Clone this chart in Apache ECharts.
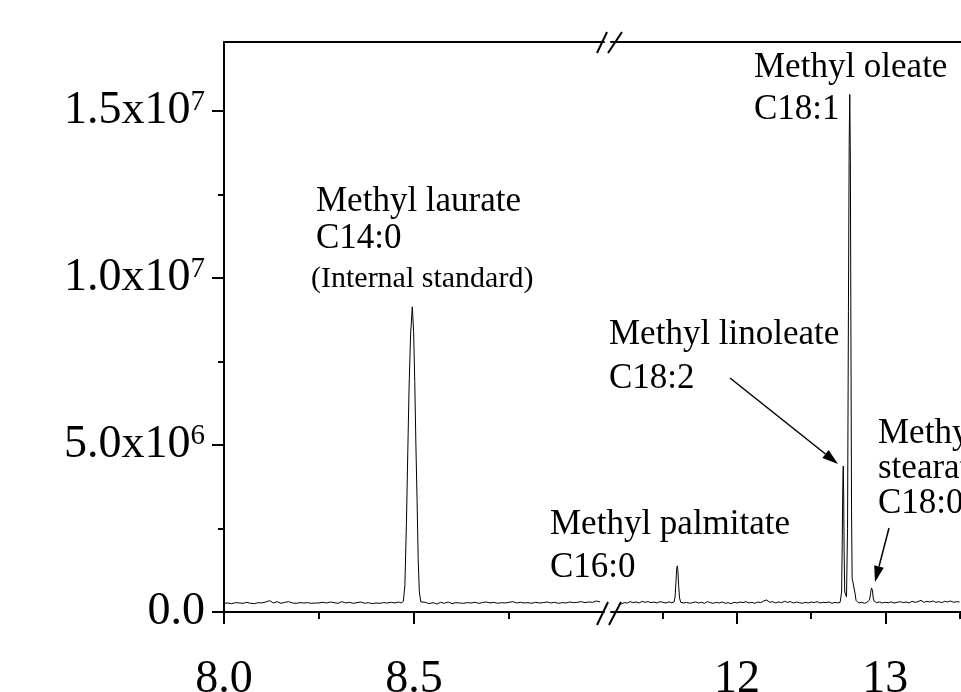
<!DOCTYPE html>
<html><head><meta charset="utf-8">
<script src="https://cdn.jsdelivr.net/npm/echarts@6/dist/echarts.min.js"></script>
<style>html,body{margin:0;padding:0;background:#fff}#c{width:961px;height:692px}</style>
</head><body><div id="c"></div>
<script>
// Retention time (min) and detector signal (in units of 1e6 counts)
const leftTime = [8.00,8.01,8.02,8.03,8.04,8.05,8.06,8.07,8.08,8.09,8.10,8.11,8.12,8.13,8.14,8.15,8.16,8.17,8.18,8.19,8.20,8.21,8.22,8.23,8.24,8.25,8.26,8.27,8.28,8.29,8.30,8.31,8.32,8.33,8.34,8.35,8.36,8.37,8.38,8.39,8.40,8.41,8.42,8.43,8.44,8.45,8.46,
8.466,8.472,8.476,8.480,8.483,8.487,8.491,8.4955,8.499,8.502,8.505,8.508,8.511,8.514,8.518,8.523,
8.53,8.54,8.55,8.56,8.57,8.58,8.59,8.60,8.61,8.62,8.63,8.64,8.65,8.66,8.67,8.68,8.69,8.70,8.71,8.72,8.73,8.74,8.75,8.76,8.77,8.78,8.79,8.80,8.81,8.82,8.83,8.84,8.85,8.86,8.87,8.88,8.89,8.90,8.91,8.92,8.93,8.94,8.95,8.96,8.97,8.98,8.99];
const leftSignal = [0.26,0.27,0.25,0.28,0.27,0.26,0.29,0.26,0.25,0.28,0.27,0.30,0.34,0.27,0.31,0.26,0.29,0.31,0.27,0.26,0.28,0.27,0.28,0.26,0.27,0.27,0.29,0.27,0.30,0.28,0.26,0.31,0.27,0.29,0.26,0.28,0.30,0.26,0.28,0.25,0.27,0.26,0.28,0.27,0.29,0.27,0.30,
0.27,0.32,0.8,2.6,4.4,6.7,8.3,9.14,8.4,6.9,5.0,3.4,1.6,0.6,0.30,0.27,
0.29,0.25,0.28,0.24,0.29,0.26,0.30,0.25,0.28,0.27,0.26,0.28,0.27,0.29,0.26,0.28,0.30,0.27,0.29,0.26,0.28,0.27,0.29,0.31,0.27,0.29,0.27,0.28,0.26,0.29,0.27,0.28,0.30,0.27,0.29,0.26,0.28,0.27,0.30,0.28,0.29,0.31,0.28,0.30,0.29,0.33,0.30];
const rightTime = [11.22,11.24,11.26,11.28,11.30,11.32,11.34,11.36,11.38,11.40,11.42,11.44,11.46,11.48,11.50,11.52,11.54,11.56,
11.575,11.582,11.588,11.593,11.597,11.601,11.606,11.612,11.62,
11.64,11.66,11.68,11.70,11.72,11.74,11.76,11.78,11.80,11.82,11.84,11.86,11.88,11.90,11.92,11.94,11.96,11.98,12.00,12.02,12.04,12.06,12.08,12.10,12.12,12.14,12.16,12.18,12.20,12.22,12.24,12.26,12.28,12.30,12.32,12.34,12.36,12.38,12.40,12.42,12.44,12.46,12.48,12.50,12.52,12.54,12.56,12.58,12.60,12.62,12.64,12.66,12.68,
12.695,12.705,12.709,12.713,12.716,12.719,12.722,12.726,12.738,12.745,12.751,12.756,12.760,12.764,12.768,12.772,12.776,12.781,12.786,12.791,12.796,12.802,12.81,
12.82,12.84,12.86,12.875,12.893,12.900,12.906,12.909,12.913,12.918,12.925,
12.94,12.96,12.98,13.00,13.02,13.04,13.06,13.08,13.10,13.12,13.14,13.16,13.18,13.20,13.22,13.24,13.26,13.28,13.30,13.32,13.34,13.36,13.38,13.40,13.42,13.44,13.46,13.48,13.50];
const rightSignal = [0.24,0.28,0.27,0.31,0.28,0.30,0.27,0.32,0.29,0.31,0.28,0.30,0.27,0.31,0.29,0.27,0.30,0.28,
0.30,0.45,0.9,1.3,1.38,1.25,0.8,0.42,0.29,
0.27,0.29,0.26,0.28,0.30,0.27,0.29,0.26,0.31,0.28,0.26,0.29,0.27,0.30,0.26,0.28,0.25,0.29,0.27,0.30,0.28,0.31,0.27,0.29,0.26,0.30,0.28,0.33,0.36,0.29,0.31,0.27,0.30,0.28,0.32,0.29,0.31,0.27,0.30,0.28,0.26,0.29,0.27,0.30,0.28,0.31,0.27,0.29,0.28,0.30,0.26,0.29,0.27,
0.29,0.6,2.0,3.8,4.37,3.5,1.8,0.6,0.45,2.5,9.0,14.0,15.5,13.5,8.0,3.0,1.0,0.9,0.95,0.85,0.55,0.35,0.30,
0.27,0.29,0.26,0.29,0.36,0.55,0.72,0.75,0.65,0.42,0.32,
0.28,0.30,0.27,0.29,0.28,0.30,0.27,0.29,0.31,0.28,0.30,0.27,0.32,0.29,0.31,0.35,0.29,0.32,0.30,0.33,0.29,0.31,0.28,0.32,0.30,0.33,0.29,0.31,0.30];

const xMajorLeft = [8.0, 8.5];
const xMinorLeft = [8.25, 8.75];
const xMajorRight = [12, 13];
const xMinorRight = [11.5, 12.5, 13.5];
const yMajor = [0, 5, 10, 15];
const yMinor = [2.5, 7.5, 12.5];
const yLabelMantissa = ['0.0', '5.0x10', '1.0x10', '1.5x10'];
const yLabelExponent = ['', '6', '7', '7'];

const FONT = 'Liberation Serif';
const pairs = (t, s) => t.map((v, i) => [v, s[i]]);

const chart = echarts.init(document.getElementById('c'), null, {renderer: 'canvas'});
const axLine = {show: true, onZero: false, lineStyle: {color: '#000', width: 2}};
const noLine = {show: false};
const lbl = {fontSize: 46, fontFamily: FONT, color: '#000'};

function xMain(grid, min, max, majors) {
  return {type: 'value', gridIndex: grid, min, max, position: 'bottom',
    axisLine: axLine, splitLine: {show: false},
    axisTick: {show: true, customValues: majors, length: 12, lineStyle: {color: '#000', width: 2}},
    axisLabel: Object.assign({customValues: majors, margin: 45, formatter: v => (grid === 0 ? v.toFixed(1) : String(v))}, lbl)};
}
function xMinor(grid, min, max, minors) {
  return {type: 'value', gridIndex: grid, min, max, position: 'bottom', offset: 0,
    axisLine: noLine, splitLine: {show: false},
    axisTick: {show: true, customValues: minors, length: 7, lineStyle: {color: '#000', width: 2}},
    axisLabel: {show: false}};
}
function xTop(grid, min, max) {
  return {type: 'value', gridIndex: grid, min, max, position: 'top',
    axisLine: axLine, splitLine: {show: false}, axisTick: {show: false}, axisLabel: {show: false}};
}

const option = {
  backgroundColor: '#fff',
  animation: false,
  grid: [
    {left: 224, width: 380, top: 42, bottom: 80, containLabel: false, outerBoundsMode: 'none'},
    {left: 611, right: 0, top: 42, bottom: 80, containLabel: false, outerBoundsMode: 'none'}
  ],
  xAxis: [
    xMain(0, 8.0, 9.0, xMajorLeft), xMinor(0, 8.0, 9.0, xMinorLeft), xTop(0, 8.0, 9.0),
    xMain(1, 11.15, 13.51, xMajorRight), xMinor(1, 11.15, 13.51, xMinorRight), xTop(1, 11.15, 13.51)
  ],
  yAxis: [
    {type: 'value', gridIndex: 0, min: 0, max: 17.07, position: 'left',
      axisLine: axLine, splitLine: {show: false},
      axisTick: {show: true, customValues: yMajor, length: 12, lineStyle: {color: '#000', width: 2}},
      axisLabel: {customValues: yMajor, margin: 19,
        formatter: v => { const i = yMajor.indexOf(v); return yLabelExponent[i] ? '{m|' + yLabelMantissa[i] + '}{s|' + yLabelExponent[i] + '}' : '{m|' + yLabelMantissa[i] + '}'; },
        rich: {m: {fontSize: 46, fontFamily: FONT, color: '#000'},
               s: {fontSize: 29, fontFamily: FONT, color: '#000', verticalAlign: 'top'}}}},
    {type: 'value', gridIndex: 0, min: 0, max: 17.07, position: 'left', offset: 0,
      axisLine: noLine, splitLine: {show: false},
      axisTick: {show: true, customValues: yMinor, length: 6, lineStyle: {color: '#000', width: 2}},
      axisLabel: {show: false}},
    {type: 'value', gridIndex: 1, min: 0, max: 17.07, show: false}
  ],
  series: [
    {type: 'line', xAxisIndex: 0, yAxisIndex: 0, data: pairs(leftTime, leftSignal), showSymbol: false, symbol: 'none',
      lineStyle: {color: '#000', width: 1}, clip: true},
    {type: 'line', xAxisIndex: 3, yAxisIndex: 2, data: pairs(rightTime, rightSignal), showSymbol: false, symbol: 'none',
      lineStyle: {color: '#000', width: 1}, clip: true}
  ],
  graphic: []
};

function txt(text, x, baseline, size) {
  return {type: 'text', x: x, y: baseline - 0.3 * size, z: 100,
    style: {text: text, font: size + 'px "' + FONT + '"', fill: '#000',
      textAlign: 'left', textVerticalAlign: 'middle', align: 'left', verticalAlign: 'middle'}};
}
function seg(x1, y1, x2, y2, w) {
  return {type: 'line', z: 100, shape: {x1, y1, x2, y2}, style: {stroke: '#000', lineWidth: w}};
}
function head(points) {
  return {type: 'polygon', z: 100, shape: {points}, style: {fill: '#000'}};
}
option.graphic = [
  txt('Methyl laurate', 316, 212, 35),
  txt('C14:0', 316, 249, 35),
  txt('(Internal standard)', 311, 288, 30),
  txt('Methyl linoleate', 609, 345, 35),
  txt('C18:2', 609, 389, 35),
  txt('Methyl oleate', 754, 78, 35),
  txt('C18:1', 754, 120, 35),
  txt('Methyl palmitate', 550, 535, 35),
  txt('C16:0', 550, 578, 35),
  txt('Methyl', 878, 444, 35),
  txt('stearate', 878, 479, 35),
  txt('C18:0', 878, 514, 35),
  seg(730, 378, 825.5, 454, 1.5),
  head([[838, 464], [822.4, 457.9], [828.6, 450.1]]),
  seg(889, 528, 879, 566.5, 1.5),
  head([[875, 582], [874.2, 565.2], [883.8, 567.8]]),
  seg(597, 625, 608, 602, 2), seg(609, 625, 621, 602, 2),
  seg(597, 53, 607, 32, 2), seg(608, 53, 622, 32, 2)
];
chart.setOption(option);
</script></body></html>
